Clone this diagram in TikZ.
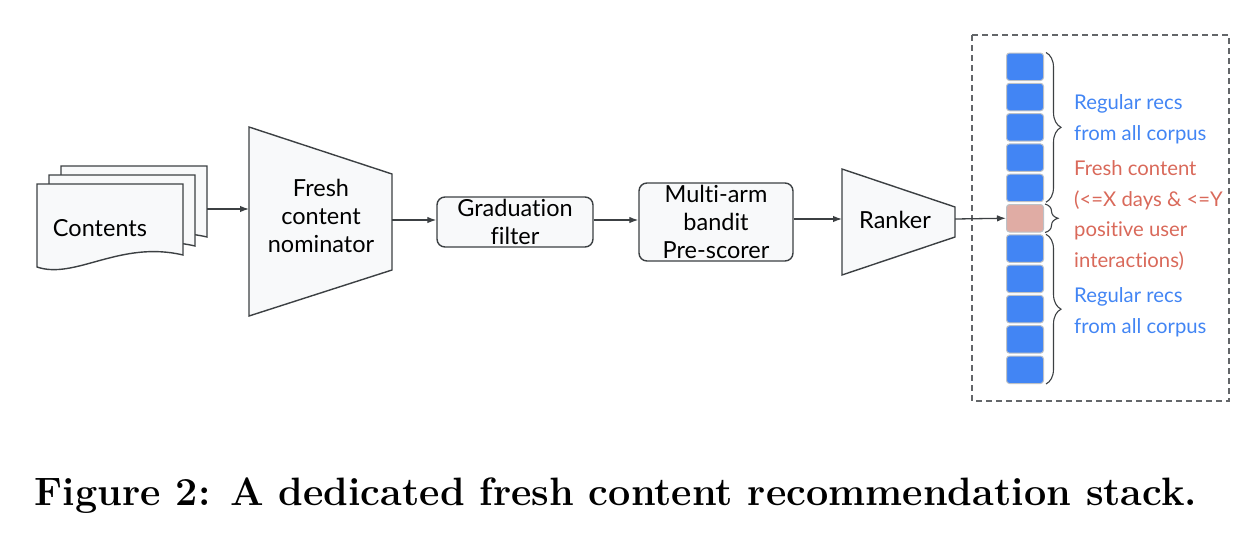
\documentclass[tikz,border=0pt]{standalone}
\usepackage{fontspec}
\newfontfamily\gsans[Ligatures={NoCommon,NoDiscretionary,NoContextual}]{Lato}
\usepackage{tikz}
\usetikzlibrary{shapes,arrows.meta,decorations.pathreplacing}
\usetikzlibrary{positioning}

\definecolor{shapefill}{HTML}{F8F9FA}
\definecolor{shapeline}{HTML}{3C4043}
\definecolor{recblue}{HTML}{4285F4}
\definecolor{recpink}{HTML}{E0ACA4}
\definecolor{recred}{HTML}{D9695A}
\definecolor{recedge}{HTML}{BDC1C6}

\begin{document}
\begin{tikzpicture}[x=1pt,y=-1pt,
    block/.style={draw=shapeline,fill=shapefill,line width=1.4pt,rounded corners=8pt},
    flow/.style={-{Latex[length=9pt,width=6.5pt]},draw=shapeline,line width=1.3pt},
    label/.style={font=\gsans\fontsize{23.5}{28}\selectfont,align=center,inner sep=0pt},
    side/.style={font=\gsans\fontsize{20.3}{30.5}\selectfont,align=left,inner sep=0pt,anchor=base west},
    rec/.style={draw=recedge,line width=1pt,rounded corners=3pt,minimum width=37pt,minimum height=27.5pt,inner sep=0pt}]
      \useasboundingbox (0,0) rectangle (1260,538);

      \begin{scope}
        % stack of contents
        \foreach \d in {24,12,0} {
          \draw[fill=shapefill,draw=shapeline,line width=1.4pt]
            (37+\d,184-\d*0.75) -- (183+\d,184-\d*0.75) -- (183+\d,255-\d*0.75)
            .. controls (120+\d,240-\d*0.75) and (75+\d,280-\d*0.75) .. (37+\d,267-\d*0.75) -- cycle;
        }
        \node[label] (contents) at (100,228) {Contents};
        \coordinate (stackout) at (207,209);

        % nominator
        \draw[fill=shapefill,draw=shapeline,line width=1.4pt]
          (249,127) -- (392,174) -- (392,270) -- (249,316) -- cycle;
        \coordinate (nomin) at (249,209);
        \coordinate (nomout) at (392,220);
        \node[label] (nominator) at (321,216) {Fresh\\content\\nominator};

        \node[block,minimum width=156pt,minimum height=50pt] (grad) at (515,222) {};
        \node[label] (gradtext) at (grad.center) {Graduation\\filter};

        \node[block,minimum width=154pt,minimum height=78pt] (bandit) at (716,222) {};
        \node[label] (bandittext) at (bandit.center) {Multi-arm\\bandit\\Pre-scorer};

        % ranker
        \draw[fill=shapefill,draw=shapeline,line width=1.4pt]
          (842,169) -- (955,207) -- (955,237) -- (842,275) -- cycle;
        \coordinate (rankin) at (842,219);
        \coordinate (rankout) at (955,219);
        \node[label] (ranker) at (895,220) {Ranker};

        \draw[flow] (stackout) -- (nomin);
        \draw[flow] (nomout) -- (grad.west |- nomout);
        \draw[flow] (grad.east |- nomout) -- (bandit.west |- nomout);
        \draw[flow] (bandit.east |- rankin) -- (rankin);
      \end{scope}

      \begin{scope}
        \draw[dashed,dash pattern=on 6pt off 4pt,draw=shapeline!80,line width=1.2pt]
          (972,35) rectangle (1229,401);

        \foreach \i in {1,...,11} {
          \ifnum\i=6
            \node[rec,fill=recpink] (b\i) at (1025,66.75+30.3*\i-30.3) {};
          \else
            \node[rec,fill=recblue] (b\i) at (1025,66.75+30.3*\i-30.3) {};
          \fi
        }
        \draw[flow] (rankout) -- (b6.west);

        \draw[decorate,decoration={brace,amplitude=15pt},draw=shapeline,line width=1.1pt]
          ([xshift=2pt]b1.north east) -- ([xshift=2pt]b5.south east);
        \draw[decorate,decoration={brace,amplitude=13pt},draw=shapeline,line width=1.1pt]
          ([xshift=1pt]b6.north east) -- ([xshift=1pt]b6.south east);
        \draw[decorate,decoration={brace,amplitude=15pt},draw=shapeline,line width=1.1pt]
          ([xshift=2pt]b7.north east) -- ([xshift=2pt]b11.south east);

        \node[side,text=recblue] (regtop) at (1074,140) {Regular recs\\from all corpus};
        \node[side,text=recred] (fresh) at (1074,267) {Fresh content\\(<=X days \& <=Y\\positive user\\interactions)};
        \node[side,text=recblue] (regbot) at (1074,333) {Regular recs\\from all corpus};
      \end{scope}

      \node[font=\bfseries\fontsize{39.6}{41}\selectfont,anchor=base,inner sep=0pt] (caption) at (616,505)
        {Figure 2: A dedicated fresh content recommendation stack.};
    \end{tikzpicture}
\end{document}
